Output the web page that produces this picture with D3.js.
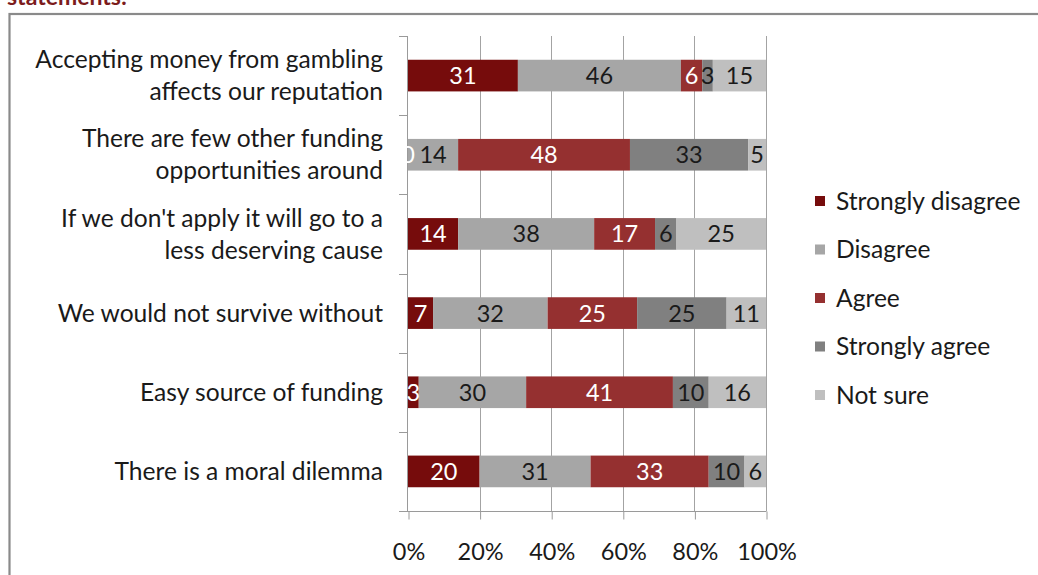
<!DOCTYPE html>
<html>
<head>
<meta charset="utf-8">
<script src="https://cdn.jsdelivr.net/npm/d3@7"></script>
<style>
  html, body { margin: 0; padding: 0; background: #fff; }
  svg { display: block; font-family: Lato, "Open Sans", sans-serif; }
</style>
</head>
<body>
<svg id="chart" width="1038" height="575"></svg>
<script>
// Survey statements (top to bottom)
const categories = [
  ["Accepting money from gambling", "affects our reputation"],
  ["There are few other funding", "opportunities around"],
  ["If we don't apply it will go to a", "less deserving cause"],
  ["We would not survive without"],
  ["Easy source of funding"],
  ["There is a moral dilemma"]
];
const seriesNames = ["Strongly disagree", "Disagree", "Agree", "Strongly agree", "Not sure"];
const seriesColors = ["#760c0c", "#a6a6a6", "#953030", "#808080", "#bfbfbf"];
const labelColors = ["#ffffff", "#1a1a1a", "#ffffff", "#1a1a1a", "#1a1a1a"];

// Percent of respondents per answer, one array per answer
const stronglyDisagree = [31, 0, 14, 7, 3, 20];
const disagree         = [46, 14, 38, 32, 30, 31];
const agree            = [6, 48, 17, 25, 41, 33];
const stronglyAgree    = [3, 33, 6, 25, 10, 10];
const notSure          = [15, 5, 25, 11, 16, 6];

const xTicks = [0, 0.2, 0.4, 0.6, 0.8, 1];

const seriesValues = [stronglyDisagree, disagree, agree, stronglyAgree, notSure];
const keys = categories.map(c => c.join(" "));
const rows = keys.map((k, i) => {
  const r = { key: k };
  seriesNames.forEach((s, j) => { r[s] = seriesValues[j][i]; });
  return r;
});

const svg = d3.select("#chart");

// Section heading (runs off the top of the page)
svg.append("text")
  .attr("x", 7).attr("y", 5)
  .attr("fill", "#7c1c1c")
  .attr("font-weight", "bold")
  .attr("font-size", 23)
  .text("statements:");

// Chart frame
svg.append("rect")
  .attr("x", 9.5).attr("y", 14)
  .attr("width", 1100).attr("height", 700)
  .attr("fill", "none")
  .attr("stroke", "#8a8a8a")
  .attr("stroke-width", 2.2);

const plot = { left: 408, right: 766, top: 36, bottom: 511 };

const x = d3.scaleLinear().domain([0, 1]).range([plot.left, plot.right]);
const y = d3.scaleBand().domain(keys).range([plot.top, plot.bottom]).padding(0);
const bw = y.bandwidth();
const barH = bw * 0.4;

const stack = d3.stack().keys(seriesNames).offset(d3.stackOffsetExpand);
const stacked = stack(rows);

// Vertical gridlines
svg.append("g").selectAll("line")
  .data(xTicks.slice(1))
  .join("line")
  .attr("x1", d => Math.round(x(d)) + 0.5).attr("x2", d => Math.round(x(d)) + 0.5)
  .attr("y1", plot.top).attr("y2", plot.bottom)
  .attr("stroke", "#a3a3a3").attr("stroke-width", 1);

// Bars
const layers = svg.append("g").selectAll("g")
  .data(stacked)
  .join("g")
  .attr("fill", (d, i) => seriesColors[i]);

layers.selectAll("rect")
  .data(d => d)
  .join("rect")
  .attr("x", d => x(d[0]))
  .attr("width", d => Math.max(0, x(d[1]) - x(d[0])))
  .attr("y", d => y(d.data.key) + (bw - barH) / 2)
  .attr("height", barH);

// Y axis line and category ticks
const axisColor = "#9a9a9a";
svg.append("line")
  .attr("x1", plot.left - 0.5).attr("x2", plot.left - 0.5)
  .attr("y1", plot.top).attr("y2", plot.bottom)
  .attr("stroke", axisColor);
const yBounds = keys.map(k => y(k)).concat([plot.bottom]);
svg.append("g").selectAll("line")
  .data(yBounds)
  .join("line")
  .attr("x1", plot.left - 9).attr("x2", plot.left)
  .attr("y1", d => Math.round(d) + 0.5).attr("y2", d => Math.round(d) + 0.5)
  .attr("stroke", axisColor);

// X axis
const xAxis = d3.axisBottom(x)
  .tickValues(xTicks)
  .tickFormat(d3.format(".0%"))
  .tickSize(8)
  .tickPadding(24);
const gx = svg.append("g")
  .attr("transform", `translate(0.5,${plot.bottom + 0.5})`)
  .call(xAxis);
gx.select(".domain").remove();
gx.append("line")
  .attr("x1", plot.left - 9.5).attr("x2", plot.right)
  .attr("stroke", axisColor);
gx.selectAll(".tick line").attr("stroke", axisColor);
gx.selectAll(".tick text")
  .attr("fill", "#1a1a1a")
  .attr("font-family", "Lato, sans-serif")
  .attr("font-size", 23.5);

// Category labels
const catG = svg.append("g");
categories.forEach((lines, i) => {
  const cy = y(keys[i]) + bw / 2;
  const lh = 32;
  const t = catG.append("text")
    .attr("text-anchor", "end")
    .attr("fill", "#1a1a1a")
    .attr("font-size", 24.6);
  lines.forEach((ln, j) => {
    t.append("tspan")
      .attr("x", 383)
      .attr("y", cy + (j - (lines.length - 1) / 2) * lh)
      .attr("dy", "0.35em")
      .text(ln);
  });
});

// Value labels inside segments, drawn above all bars
const labelG = svg.append("g");
stacked.forEach((layer, si) => {
  labelG.append("g").selectAll("text")
    .data(layer)
    .join("text")
    .attr("x", d => (x(d[0]) + x(d[1])) / 2)
    .attr("y", d => y(d.data.key) + bw / 2)
    .attr("dy", "0.36em")
    .attr("text-anchor", "middle")
    .attr("fill", labelColors[si])
    .attr("font-size", 23.5)
    .text(d => d.data[layer.key]);
});

// Legend
const legend = svg.append("g");
seriesNames.forEach((s, i) => {
  const ly = 201 + i * 48.5;
  legend.append("rect")
    .attr("x", 815).attr("y", ly - 5)
    .attr("width", 10).attr("height", 10)
    .attr("fill", seriesColors[i]);
  legend.append("text")
    .attr("x", 836).attr("y", ly)
    .attr("dy", "0.35em")
    .attr("fill", "#1a1a1a")
    .attr("font-size", 24.6)
    .text(s);
});
</script>
</body>
</html>
